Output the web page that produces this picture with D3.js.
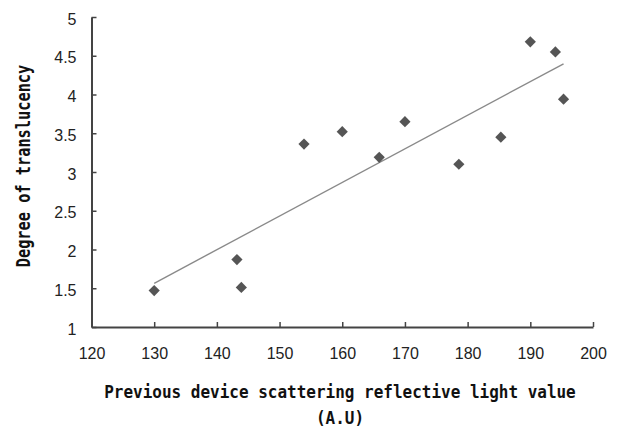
<!DOCTYPE html>
<html>
<head>
<meta charset="utf-8">
<script src="https://cdn.jsdelivr.net/npm/d3@7"></script>
<style>
  body { margin: 0; background: #fff; }
  svg { display: block; }
  .tick text { font-family: "Liberation Sans", Arial, sans-serif; font-size: 16px; fill: #222; }
  .title { font-family: "DejaVu Sans Mono", monospace; font-weight: bold; font-size: 16px; fill: #111; }
</style>
</head>
<body>
<div id="chart"></div>
<script>
// scattering value (A.U) vs degree of translucency
var scatterX = [130, 143.2, 143.9, 153.9, 160, 165.9, 170, 178.6, 185.3, 190, 194, 195.3];
var translucency = [1.47, 1.87, 1.51, 3.36, 3.52, 3.19, 3.65, 3.10, 3.45, 4.68, 4.55, 3.94];
var xTicks = [120, 130, 140, 150, 160, 170, 180, 190, 200];
var yTicks = [1, 1.5, 2, 2.5, 3, 3.5, 4, 4.5, 5];

var width = 618, height = 427;

var svg = d3.select('#chart').append('svg')
    .attr('width', width)
    .attr('height', height);

var x = d3.scaleLinear().domain([120, 200]).range([91.5, 593]);
var y = d3.scaleLinear().domain([1, 5]).range([327, 17]);

var points = scatterX.map(function (d, i) { return { x: d, y: translucency[i] }; });

// least squares trend line
var mx = d3.mean(scatterX), my = d3.mean(translucency);
var sxy = d3.sum(points, function (p) { return (p.x - mx) * (p.y - my); });
var sxx = d3.sum(points, function (p) { return (p.x - mx) * (p.x - mx); });
var slope = sxy / sxx, icpt = my - slope * mx;
var xr = d3.extent(scatterX);
var trend = xr.map(function (v) { return { x: v, y: icpt + slope * v }; });

svg.append('path')
    .datum(trend)
    .attr('d', d3.line().x(function (d) { return x(d.x); }).y(function (d) { return y(d.y); }))
    .attr('fill', 'none')
    .attr('stroke', '#8a8a8a')
    .attr('stroke-width', 1.4);

svg.append('g')
    .selectAll('path')
    .data(points)
    .enter().append('path')
    .attr('transform', function (d) { return 'translate(' + x(d.x) + ',' + y(d.y) + ')'; })
    .attr('d', d3.symbol().type(d3.symbolDiamond2).size(80))
    .attr('fill', '#555');

var xAxis = svg.append('g')
    .attr('transform', 'translate(0,327)')
    .call(d3.axisBottom(x).tickValues(xTicks).tickSizeInner(-5).tickSizeOuter(0).tickPadding(21));

var yAxis = svg.append('g')
    .attr('transform', 'translate(91.5,0)')
    .call(d3.axisLeft(y).tickValues(yTicks).tickSizeInner(-5).tickSizeOuter(0).tickPadding(15)
      .tickFormat(function (d) { return String(d); }));
yAxis.selectAll('.tick text').attr('dy', '0.45em');

[xAxis, yAxis].forEach(function (g) {
  g.select('.domain').attr('stroke', '#444').attr('stroke-width', 2);
  g.selectAll('.tick line').attr('stroke', '#444').attr('stroke-width', 1.5);
});

svg.append('text')
    .attr('class', 'title')
    .attr('transform', 'translate(340,398) scale(1,1.12)')
    .attr('text-anchor', 'middle')
    .text('Previous device scattering reflective light value');
svg.append('text')
    .attr('class', 'title')
    .attr('transform', 'translate(340,424) scale(1,1.12)')
    .attr('text-anchor', 'middle')
    .text('(A.U)');

svg.append('text')
    .attr('class', 'title')
    .style('font-size', '15.3px')
    .attr('transform', 'translate(30,166) rotate(-90) scale(1,1.3)')
    .attr('text-anchor', 'middle')
    .text('Degree of translucency');
</script>
</body>
</html>
